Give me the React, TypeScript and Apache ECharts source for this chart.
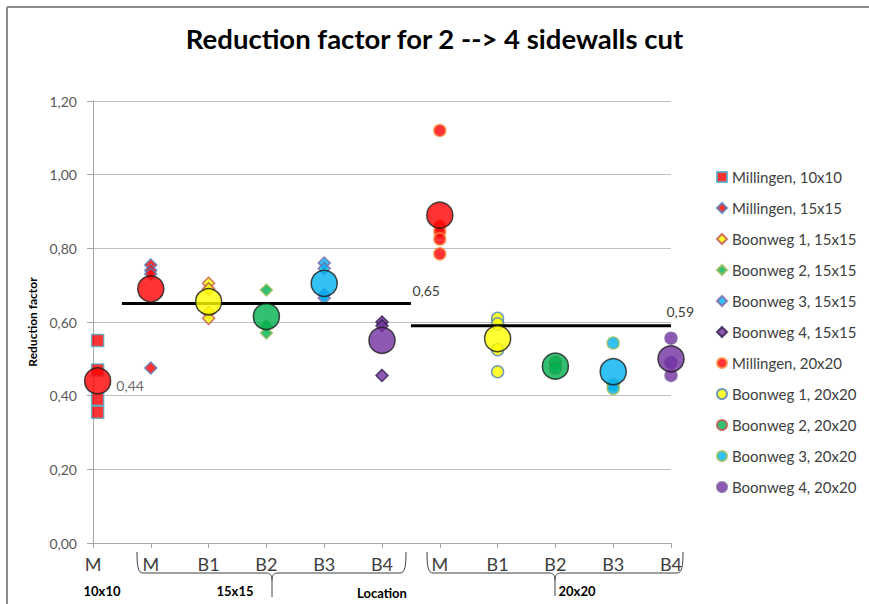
import React, { useEffect, useRef } from "react";
import * as echarts from "echarts";

const FONT = "Lato, 'Noto Sans', sans-serif";

const categories = ["M", "M", "B1", "B2", "B3", "B4", "M", "B1", "B2", "B3", "B4"];
const groupLabels = ["10x10", "15x15", "Location", "20x20"];

const seriesNames = [
  "Millingen, 10x10",
  "Millingen, 15x15",
  "Boonweg 1, 15x15",
  "Boonweg 2, 15x15",
  "Boonweg 3, 15x15",
  "Boonweg 4, 15x15",
  "Millingen, 20x20",
  "Boonweg 1, 20x20",
  "Boonweg 2, 20x20",
  "Boonweg 3, 20x20",
  "Boonweg 4, 20x20",
];
const xPositions = [1.08, 2, 3, 4, 5, 6, 7, 8, 9, 10, 11];
const symbols = ["rect", "diamond", "diamond", "diamond", "diamond", "diamond", "circle", "circle", "circle", "circle", "circle"];
const fillColors = ["#FF0000", "#FF0000", "#FFFF00", "#00B050", "#00B0F0", "#7030A0", "#FF0000", "#FFFF00", "#00B050", "#00B0F0", "#7030A0"];
const borderColors = ["#4BACC6", "#4F81BD", "#C0504D", "#9BBB59", "#8064A2", "#2E1A47", "#F79646", "#4F81BD", "#C0504D", "#9BBB59", "#8064A2"];

const millingen10 = [0.55, 0.47, 0.39, 0.355];
const millingen15 = [0.755, 0.74, 0.73, 0.475];
const boonweg1_15 = [0.705, 0.69, 0.625, 0.61];
const boonweg2_15 = [0.687, 0.59, 0.57];
const boonweg3_15 = [0.76, 0.745, 0.675, 0.665];
const boonweg4_15 = [0.6, 0.59, 0.455];
const millingen20 = [1.12, 0.86, 0.845, 0.825, 0.785];
const boonweg1_20 = [0.61, 0.595, 0.525, 0.465];
const boonweg2_20 = [0.49, 0.475];
const boonweg3_20 = [0.543, 0.43, 0.42];
const boonweg4_20 = [0.556, 0.49, 0.455];
const seriesValues = [
  millingen10, millingen15, boonweg1_15, boonweg2_15, boonweg3_15, boonweg4_15,
  millingen20, boonweg1_20, boonweg2_20, boonweg3_20, boonweg4_20,
];

const means = [0.44, 0.69, 0.655, 0.615, 0.705, 0.55, 0.89, 0.555, 0.48, 0.465, 0.5];

const overall15 = 0.65;
const overall15Range = [1.5, 6.5];
const overall20 = 0.59;
const overall20Range = [6.5, 11];

const fmt = (v: number) => v.toFixed(2).replace(".", ",");

const brace1 =
  "M137,552 C137,566 138,573 143,573 L266,573 C270,573 272,575 272,580 L272,597 M272,580 C272,575 274,573 278,573 L400,573 C405,573 406,566 406,552";
const brace2 =
  "M427,552 C427,566 428,573 433,573 L549,573 C553,573 555,575 555,580 L555,596 M555,580 C555,575 557,573 561,573 L677,573 C682,573 683,566 683,552";

let registered = false;
function registerShapes() {
  if (registered) return;
  echarts.graphic.registerShape("brace1", echarts.graphic.extendPath(brace1, {}) as any);
  echarts.graphic.registerShape("brace2", echarts.graphic.extendPath(brace2, {}) as any);
  registered = true;
}

export default function App() {
  const ref = useRef<HTMLDivElement>(null);
  useEffect(() => {
    if (!ref.current) return;
    document.body.style.margin = "0";
    registerShapes();
    const chart = echarts.init(ref.current, undefined, { renderer: "svg" });

    const small = seriesNames.map((name, i) => ({
      name,
      type: "scatter",
      symbol: symbols[i],
      symbolSize: 12,
      z: 3,
      itemStyle: { color: fillColors[i], borderColor: borderColors[i], borderWidth: 1.5 },
      data: seriesValues[i].map((v) => [xPositions[i], v]),
    }));

    const big = {
      name: "means",
      type: "scatter",
      symbol: "circle",
      symbolSize: 26,
      z: 5,
      data: means.map((v, i) => ({
        value: [xPositions[i], v],
        itemStyle: { color: fillColors[i], borderColor: "#1a1a1a", borderWidth: 1.5 },
        label:
          i === 0
            ? {
                show: true,
                position: "right",
                distance: 5,
                offset: [0, 5],
                formatter: () => fmt(v),
                color: "#404040",
                fontSize: 14,
                fontFamily: FONT,
              }
            : { show: false },
      })),
    };

    const meanLine = (val: number, range: number[], offset: number[]) => ({
      name: "overall" + val,
      type: "line",
      symbol: "circle",
      symbolSize: 1,
      showSymbol: true,
      z: 4,
      itemStyle: { color: "rgba(0,0,0,0)" },
      lineStyle: { color: "#000", width: 3 },
      data: [
        { value: [range[0], val], label: { show: false } },
        {
          value: [range[1], val],
          label: {
            show: true,
            position: "right",
            offset,
            formatter: () => fmt(val),
            color: "#404040",
            fontSize: 14,
            fontFamily: FONT,
          },
        },
      ],
    });

    chart.setOption({
      animation: false,
      backgroundColor: "#fff",
      textStyle: { fontFamily: FONT },
      title: {
        text: "Reduction factor for 2 --> 4 sidewalls cut",
        left: "center",
        top: 19,
        textStyle: { fontFamily: FONT, fontSize: 27.5, fontWeight: "bold", color: "#000" },
      },
      legend: {
        orient: "vertical",
        left: 711,
        top: 164,
        itemWidth: 10,
        itemHeight: 10,
        itemGap: 15,
        data: seriesNames,
        textStyle: { fontFamily: FONT, fontSize: 15, color: "#404040", lineHeight: 16 },
      },
      grid: { left: 93, right: 198, top: 101, bottom: 61, containLabel: false },
      xAxis: {
        type: "value",
        min: 1,
        max: 11,
        interval: 1,
        splitLine: { show: false },
        axisLine: { show: true, lineStyle: { color: "#A6A6A6" } },
        axisTick: { show: true, length: 5, lineStyle: { color: "#A6A6A6" } },
        axisLabel: {
          margin: 12,
          fontSize: 18,
          fontFamily: FONT,
          color: "#404040",
          formatter: (v: number) => categories[Math.round(v) - 1] ?? "",
        },
      },
      yAxis: {
        type: "value",
        min: 0,
        max: 1.2,
        interval: 0.2,
        name: "Reduction factor",
        nameLocation: "middle",
        nameGap: 30,
        nameTextStyle: { fontFamily: FONT, fontSize: 12, fontWeight: "bold", color: "#000" },
        axisLine: { show: true, lineStyle: { color: "#A6A6A6" } },
        axisTick: { show: true, length: 6, lineStyle: { color: "#A6A6A6" } },
        splitLine: { show: true, lineStyle: { color: "#BFBFBF" } },
        axisLabel: {
          margin: 16,
          fontSize: 14,
          fontFamily: FONT,
          color: "#595959",
          formatter: (v: number) => fmt(v),
        },
      },
      graphic: [
        { type: "line", shape: { x1: 7, y1: 7, x2: 869, y2: 7 }, style: { stroke: "#8C8C8C", lineWidth: 2 } },
        { type: "line", shape: { x1: 7, y1: 7, x2: 7, y2: 604 }, style: { stroke: "#8C8C8C", lineWidth: 2 } },
        { type: "brace1", x: 0, y: 0, style: { stroke: "#404040", fill: "none", lineWidth: 1 } },
        { type: "brace2", x: 0, y: 0, style: { stroke: "#404040", fill: "none", lineWidth: 1 } },
        {
          type: "text", x: 102, y: 591,
          style: { text: groupLabels[0], font: `bold 13px ${FONT}`, fill: "#000", textAlign: "center", textVerticalAlign: "middle" },
        },
        {
          type: "text", x: 235, y: 591,
          style: { text: groupLabels[1], font: `bold 13px ${FONT}`, fill: "#000", textAlign: "center", textVerticalAlign: "middle" },
        },
        {
          type: "text", x: 382, y: 593,
          style: { text: groupLabels[2], font: `bold 13px ${FONT}`, fill: "#000", textAlign: "center", textVerticalAlign: "middle" },
        },
        {
          type: "text", x: 577, y: 591,
          style: { text: groupLabels[3], font: `bold 13px ${FONT}`, fill: "#000", textAlign: "center", textVerticalAlign: "middle" },
        },
      ],
      series: [
        meanLine(overall15, overall15Range, [-4, -13]),
        meanLine(overall20, overall20Range, [-10, -14]),
        ...small,
        big,
      ],
    });
    return () => chart.dispose();
  }, []);
  return <div ref={ref} style={{ width: 869, height: 604 }} />;
}
